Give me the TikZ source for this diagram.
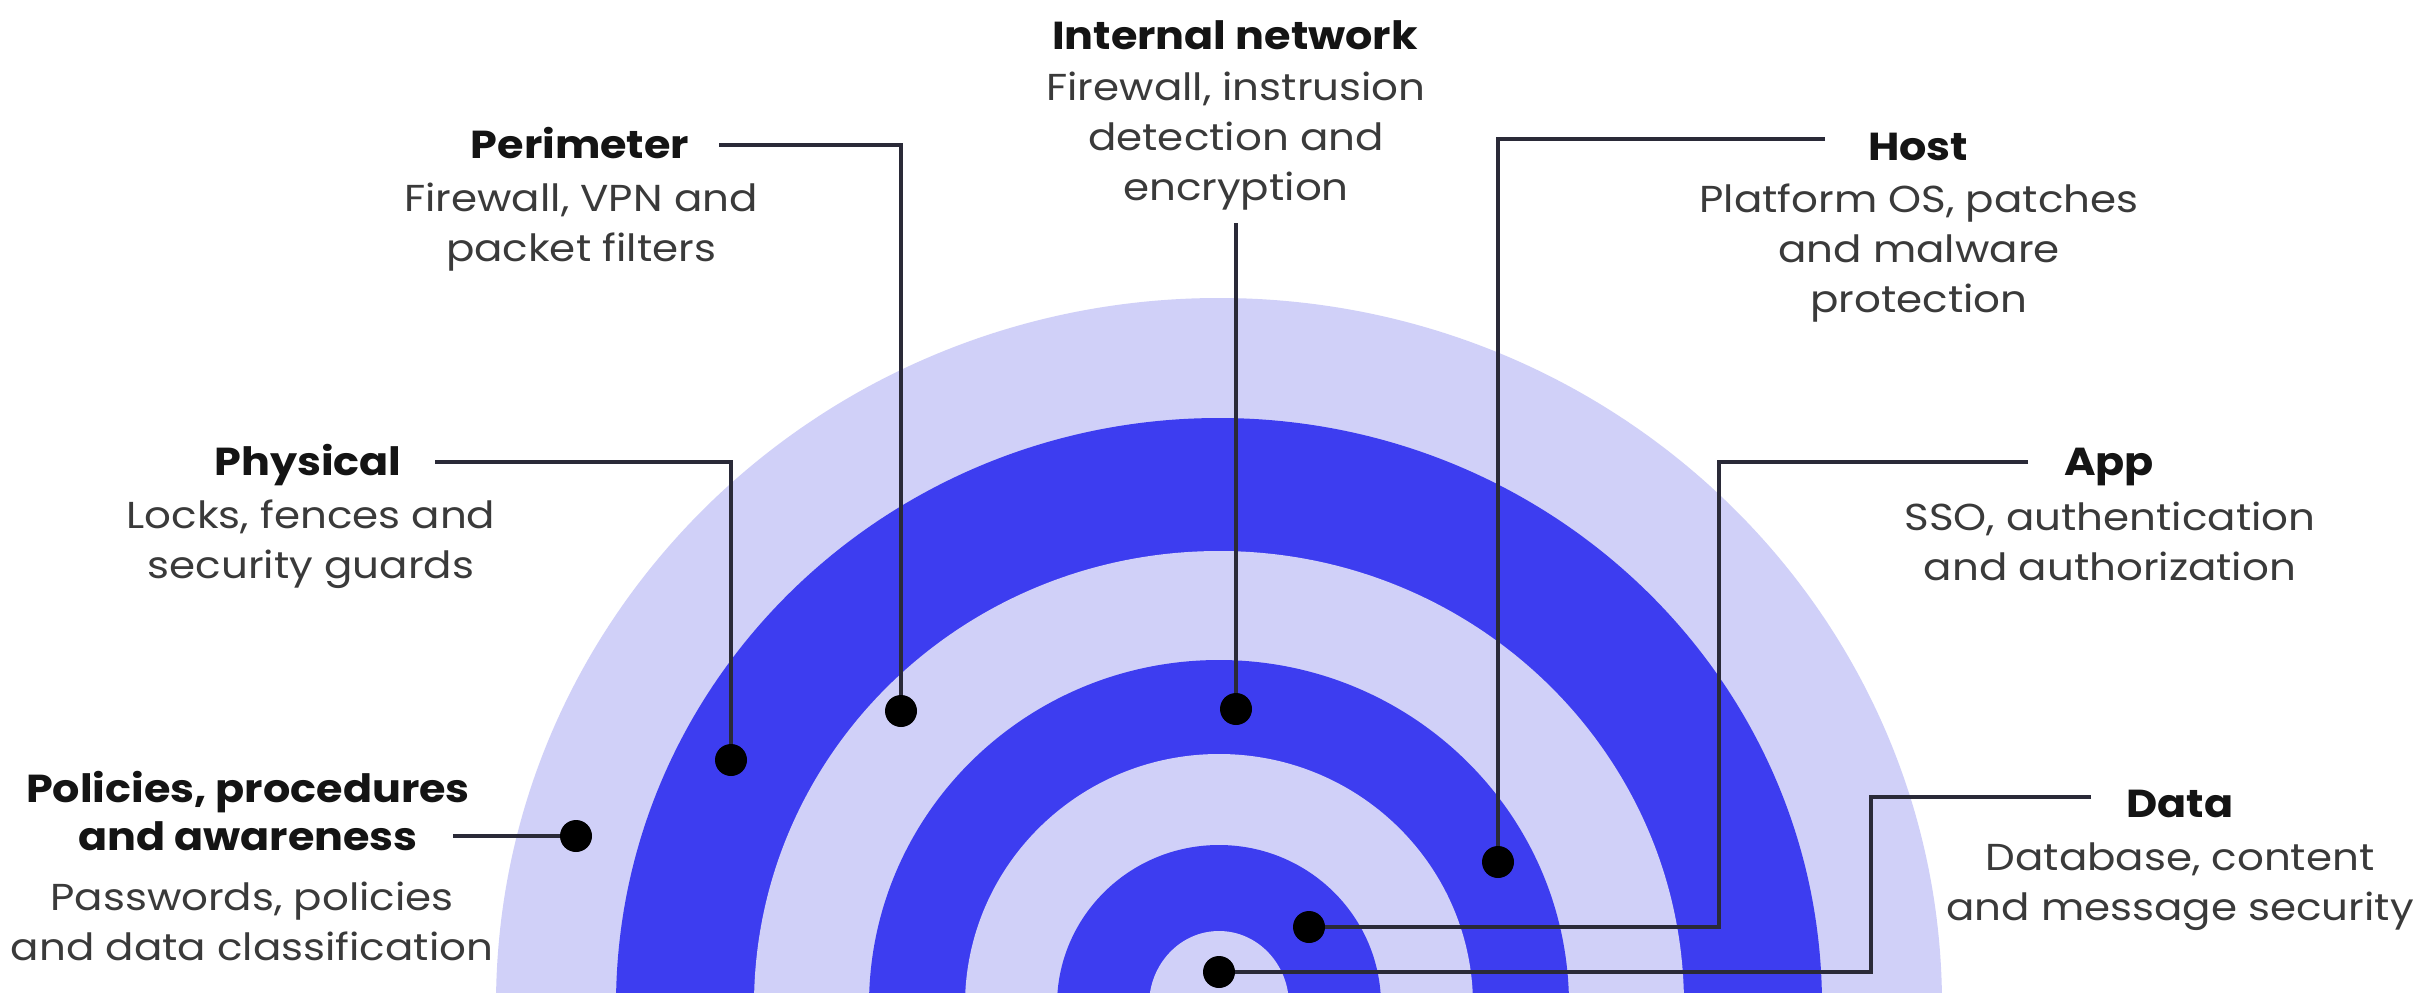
\documentclass[tikz,border=0pt]{standalone}
\usepackage{fontspec}
\setmainfont{Poppins}
\newfontfamily\ttlfam{Poppins}[FakeStretch=1.1]
\newfontfamily\dscfam{Poppins}[FakeStretch=1.12]
\definecolor{ringdark}{HTML}{3D3DF0}
\definecolor{ringlight}{HTML}{D0D0F8}
\definecolor{ttlc}{HTML}{141414}
\definecolor{dscc}{HTML}{3A3A3A}
\definecolor{linec}{HTML}{2A2A38}
\newcommand\ttlfont{\ttlfam\fontsize{39}{50}\selectfont\bfseries}
\newcommand\dscfont{\dscfam\fontsize{37.5}{50}\selectfont}
\tikzset{
  ttl/.style={font=\ttlfont, text=ttlc, inner sep=0pt, anchor=north, align=center},
  dsc/.style={font=\dscfont, text=dscc, inner sep=0pt, anchor=north, align=center},
  dot/.style={circle, fill=black, inner sep=0pt, minimum size=32pt},
  lead/.style={draw=linec, line width=3.2pt},
}
\begin{document}
\begin{tikzpicture}[x=1pt,y=-1pt]
\useasboundingbox (0,0) rectangle (2420,993);
\fill[white] (0,0) rectangle (2420,993);
\begin{scope}
\clip (0,0) rectangle (2420,993);
\fill[ringlight] (1219,1005) ellipse [x radius=723pt, y radius=707pt];
\fill[ringdark]  (1219,1005) ellipse [x radius=603pt, y radius=587pt];
\fill[ringlight] (1219,1005) ellipse [x radius=465pt, y radius=454pt];
\fill[ringdark]  (1219,1005) ellipse [x radius=350pt, y radius=345pt];
\fill[ringlight] (1219,1005) ellipse [x radius=254pt, y radius=251pt];
\fill[ringdark]  (1219,1005) ellipse [x radius=162pt, y radius=160pt];
\fill[ringlight] (1219,1005) ellipse [x radius=70pt, y radius=74pt];
\end{scope}

% dots
\node[dot] (poldot)  at (576,836) {};
\node[dot] (phydot)  at (731,760) {};
\node[dot] (perdot)  at (901,711) {};
\node[dot] (intdot)  at (1236,709) {};
\node[dot] (hostdot) at (1498,862) {};
\node[dot] (appdot)  at (1309,927) {};
\node[dot] (datadot) at (1219,972) {};

% leader starts and corners
\coordinate (polL)  at (453,836);
\coordinate (phyL)  at (435,462);
\coordinate (perL)  at (719,145);
\coordinate (intL)  at (1236,223);
\coordinate (hostL) at (1825,139);
\coordinate (appL)  at (2028,462);
\coordinate (appK)  at (1719,927);
\coordinate (dataL) at (2091,797);
\coordinate (dataK) at (1871,972);

\draw[lead] (polL) -- (poldot);
\draw[lead] (phyL) -| (phydot);
\draw[lead] (perL) -| (perdot);
\draw[lead] (intL) -- (intdot);
\draw[lead] (hostL) -| (hostdot);
\draw[lead] (appL) -| (appK) -- (appdot);
\draw[lead] (dataL) -| (dataK) -- (datadot);

% labels
\node[ttl] (intT) at (1235,14) {\strut Internal network};
\node[dsc] (intD) at (1236,65) {\strut Firewall, instrusion\\detection and\\encryption};

\node[ttl] (perT) at (580,123) {\strut Perimeter};
\node[dsc] (perD) at (581,176) {\strut Firewall, VPN and\\packet filters};

\node[ttl] (hostT) at (1918,125) {\strut Host};
\node[dsc] (hostD) at (1919,177) {\strut Platform OS, patches\\and malware\\protection};

\node[ttl] (phyT) at (308,440) {\strut Physical};
\node[dsc] (phyD) at (311,493) {\strut Locks, fences and\\security guards};

\node[ttl] (appT) at (2109,440) {\strut App};
\node[dsc] (appD) at (2110,495) {\strut SSO, authentication\\and authorization};

\node[ttl] (dataT) at (2180,782) {\strut Data};
\node[dsc] (dataD) at (2180,835) {\strut Database, content\\and message security};

\node[ttl] (polT) at (248,767) {\strut Policies, procedures\\[-2pt]and awareness};
\node[dsc] (polD) at (252,875) {\strut Passwords, policies\\and data classification};
\end{tikzpicture}
\end{document}
